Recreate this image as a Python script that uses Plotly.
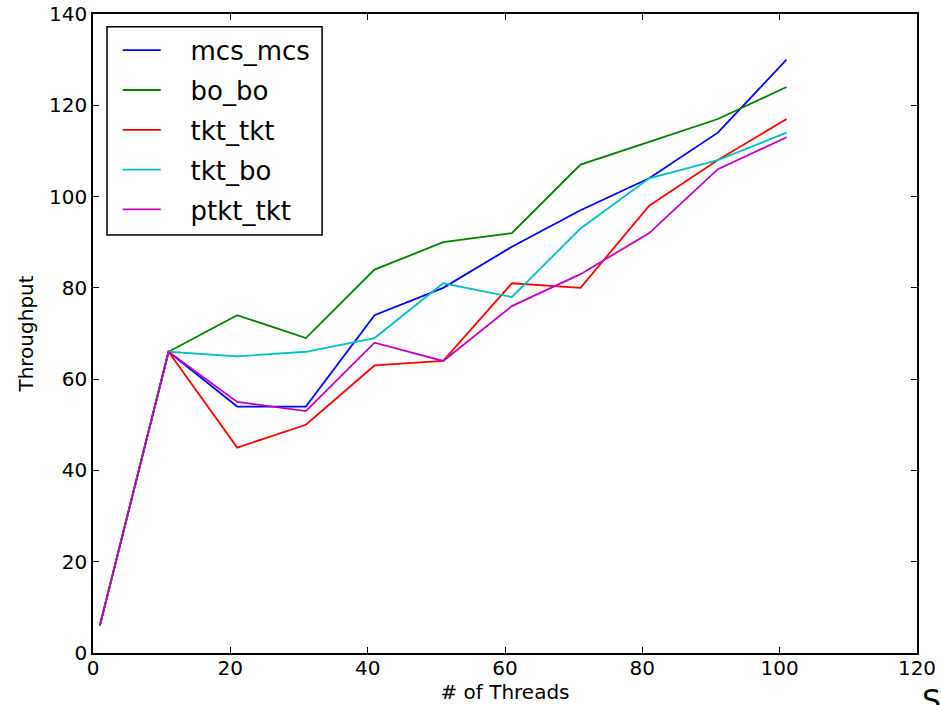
import plotly.graph_objects as go

threads = [1, 11, 21, 31, 41, 51, 61, 71, 81, 91, 101]
mcs_mcs = [6, 66, 54, 54, 74, 80, 89, 97, 104, 114, 130]
bo_bo = [6, 66, 74, 69, 84, 90, 92, 107, 112, 117, 124]
tkt_tkt = [6, 66, 45, 50, 63, 64, 81, 80, 98, 108, 117]
tkt_bo = [6, 66, 65, 66, 69, 81, 78, 93, 104, 108, 114]
ptkt_tkt = [6, 66, 55, 53, 68, 64, 76, 83, 92, 106, 113]

series = [
    ("mcs_mcs", mcs_mcs, "#0000ff"),
    ("bo_bo", bo_bo, "#008000"),
    ("tkt_tkt", tkt_tkt, "#ff0000"),
    ("tkt_bo", tkt_bo, "#00bfbf"),
    ("ptkt_tkt", ptkt_tkt, "#bf00bf"),
]

font = "DejaVu Sans"
PAD = "\u00a0" * 3
fig = go.Figure()
for i, (name, vals, color) in enumerate(series):
    fig.add_trace(go.Scatter(x=threads, y=vals, mode="lines", name=PAD + name,
                             legendgroup=f"g{i}",
                             line=dict(color=color, width=1.8)))

axis_common = dict(showgrid=False, zeroline=False, showline=True, linecolor="black",
                   linewidth=1.5, mirror="allticks", ticks="inside", ticklen=6,
                   tickwidth=1.2, tickcolor="black", automargin=False,
                   tickfont=dict(family=font, size=20, color="black"))

fig.update_layout(
    width=941, height=705,
    margin=dict(l=93, r=24, t=14, b=52),
    paper_bgcolor="white", plot_bgcolor="white",
    font=dict(family=font, color="black"),
    xaxis=dict(range=[0, 120], tickvals=[0, 20, 40, 60, 80, 100, 120],
               ticklabelstandoff=-4,
               title=dict(text="# of Threads", font=dict(family=font, size=20), standoff=5),
               **axis_common),
    yaxis=dict(range=[0, 140], tickvals=[0, 20, 40, 60, 80, 100, 120, 140],
               title=dict(text="Throughput", font=dict(family=font, size=20), standoff=10),
               **axis_common),
    legend=dict(x=0.030, y=0.98, xanchor="left", yanchor="top",
                bgcolor="rgba(0,0,0,0)", borderwidth=0,
                font=dict(family=font, size=26, color="black"),
                tracegroupgap=3, traceorder="grouped", itemwidth=38),
    showlegend=True,
    shapes=[dict(type="rect", xref="paper", yref="paper",
                 x0=0.017, x1=0.278, y0=0.654, y1=0.980,
                 line=dict(color="black", width=1.5), fillcolor="white", layer="above")],
)

fig.add_annotation(text="S", xref="paper", yref="paper", x=1.0, y=0, xanchor="left",
                   yanchor="top", yshift=-28, xshift=3, showarrow=False,
                   font=dict(family=font, size=30, color="black"))

fig.write_html("out.html", config={"displayModeBar": False},
               post_script="document.body.style.margin='0px';")
